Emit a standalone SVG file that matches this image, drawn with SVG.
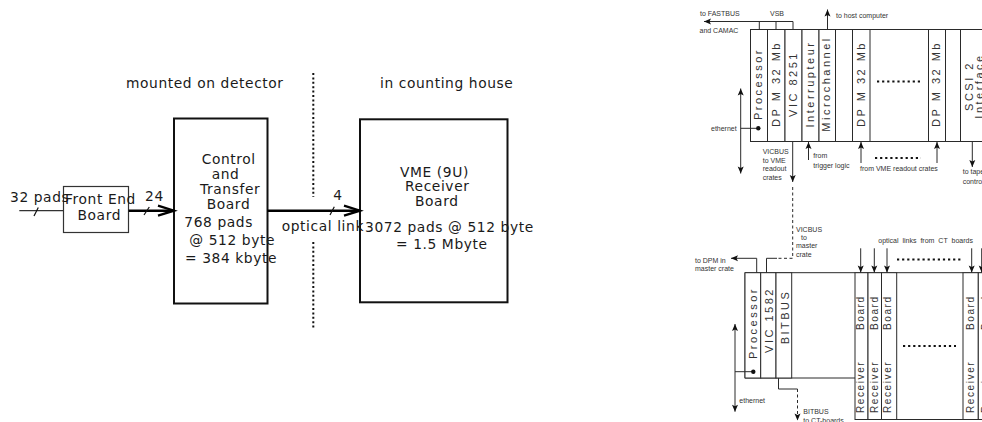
<svg xmlns="http://www.w3.org/2000/svg" width="982" height="422" viewBox="0 0 982 422">
<style>
 .lt{font-family:"DejaVu Sans",Verdana,sans-serif;font-size:13.8px;letter-spacing:0.6px;fill:#1a1a1a}
 .box{fill:none;stroke:#111;stroke-width:2}
 .thin{fill:none;stroke:#333;stroke-width:1.2}
 .bus{fill:none;stroke:#000;stroke-width:2.5}
 .tick{fill:none;stroke:#111;stroke-width:1.2}
 .dotv{fill:none;stroke:#111;stroke-width:2;stroke-dasharray:2 2.4}
 .cr{fill:#fff;stroke:#2a2a2a;stroke-width:1}
 .col{font-family:"Liberation Sans",Arial,sans-serif;font-size:11px;letter-spacing:2.5px;fill:#333;text-anchor:middle}
 .rb{font-family:"Liberation Sans",Arial,sans-serif;font-size:10px;letter-spacing:1.6px;fill:#333}
 .sm{font-family:"Liberation Sans",Arial,sans-serif;font-size:7px;fill:#333}
 .ln{fill:none;stroke:#2a2a2a;stroke-width:1}
 .dash{fill:none;stroke:#2a2a2a;stroke-width:1;stroke-dasharray:3 2.5}
 .dots{fill:none;stroke:#111;stroke-width:2.2;stroke-dasharray:2.2 2.9}
</style>
<defs>
 <marker id="open" markerUnits="userSpaceOnUse" markerWidth="22" markerHeight="14" refX="16" refY="5.5" orient="auto" overflow="visible">
  <path d="M0,0.5 L16,5.5 L0,10.5" fill="none" stroke="#000" stroke-width="2.3"/>
 </marker>
 <marker id="ah" markerUnits="userSpaceOnUse" markerWidth="8" markerHeight="6" refX="7" refY="3" orient="auto-start-reverse" overflow="visible">
  <path d="M0,0 L7,3 L0,6 L1.5,3 z" fill="#111"/>
 </marker>
</defs>

<!-- ===== Left diagram ===== -->
<g id="label-mounted"><text class="lt" x="126" y="88.3">mounted on detector</text></g>
<g id="label-counting"><text class="lt" x="380" y="88.3">in counting house</text></g>
<g id="divider">
 <line class="dotv" x1="313.3" y1="73" x2="313.3" y2="197"/>
 <line class="dotv" x1="313.3" y1="242" x2="313.3" y2="329"/>
</g>

<g id="node-frontend">
 <rect class="thin" x="63.5" y="186.5" width="65" height="46"/>
 <text class="lt" x="65" y="204">Front End</text>
 <text class="lt" x="77.5" y="220">Board</text>
</g>

<g id="node-control">
 <rect class="box" x="174" y="118.5" width="93.5" height="185"/>
 <text class="lt" x="201.7" y="164">Control</text>
 <text class="lt" x="211.7" y="179">and</text>
 <text class="lt" x="200" y="194">Transfer</text>
 <text class="lt" x="206.7" y="209">Board</text>
 <text class="lt" x="184.3" y="227.3">768 pads</text>
 <text class="lt" x="189.3" y="245.3">@ 512 byte</text>
 <text class="lt" x="185" y="263.3">= 384 kbyte</text>
</g>

<g id="node-vme">
 <rect class="box" x="360" y="119.3" width="147.5" height="183"/>
 <text class="lt" x="400" y="177.3">VME (9U)</text>
 <text class="lt" x="405" y="191">Receiver</text>
 <text class="lt" x="415" y="205.7">Board</text>
 <text class="lt" x="365" y="231.7">3072 pads @ 512 byte</text>
 <text class="lt" x="396" y="249.3">= 1.5 Mbyte</text>
</g>

<g id="connectors-left">
 <line class="thin" x1="19.3" y1="210.7" x2="63.5" y2="210.7"/>
 <line class="tick" x1="34" y1="216" x2="38.3" y2="207.5"/>
 <text class="lt" x="10" y="201.7">32 pads</text>
 <line class="bus" x1="128.7" y1="210.7" x2="174" y2="210.7" marker-end="url(#open)"/>
 <line class="tick" x1="144" y1="215" x2="149.3" y2="207"/>
 <text class="lt" x="145" y="200.7">24</text>
 <line class="bus" x1="267.3" y1="210.7" x2="360" y2="210.7" marker-end="url(#open)"/>
 <line class="tick" x1="330" y1="215" x2="334.3" y2="206.7"/>
 <text class="lt" x="333.3" y="200">4</text>
 <text class="lt" x="281.7" y="231.3">optical link</text>
</g>

<!-- ===== Right diagram: master crate (top) ===== -->
<g id="crate-top">
 <rect class="cr" x="750.5" y="29.5" width="250" height="112"/>
 <g id="mod-processor-top"><rect class="cr" x="750.5" y="29.5" width="17" height="112"/>
  <text class="col" transform="translate(762,84) rotate(-90)">Processor</text></g>
 <g id="mod-dpm-a"><rect class="cr" x="767.5" y="29.5" width="17.5" height="112"/>
  <text class="col" transform="translate(779.5,84) rotate(-90)">DP M 32 Mb</text></g>
 <g id="mod-vic8251"><rect class="cr" x="785" y="29.5" width="17" height="112"/>
  <text class="col" transform="translate(796.5,84) rotate(-90)">VIC 8251</text></g>
 <g id="mod-interrupteur"><rect class="cr" x="802" y="29.5" width="17" height="112"/>
  <text class="col" transform="translate(813.5,84) rotate(-90)">Interrupteur</text></g>
 <g id="mod-microchannel"><rect class="cr" x="819" y="29.5" width="16.5" height="112"/>
  <text class="col" transform="translate(830,84) rotate(-90)">Microchannel</text></g>
 <g id="mod-blank-a"><rect class="cr" x="835.5" y="29.5" width="17" height="112"/></g>
 <g id="mod-dpm-b"><rect class="cr" x="852.5" y="29.5" width="17.5" height="112"/>
  <text class="col" transform="translate(864.5,84) rotate(-90)">DP M 32 Mb</text></g>
 <g id="mod-dpm-c"><rect class="cr" x="928.5" y="29.5" width="17" height="112"/>
  <text class="col" transform="translate(940,84) rotate(-90)">DP M 32 Mb</text></g>
 <g id="mod-blank-b"><rect class="cr" x="945.5" y="29.5" width="15" height="112"/></g>
 <g id="mod-scsi"><rect class="cr" x="960.5" y="29.5" width="40" height="112"/>
  <text class="col" transform="translate(973,86) rotate(-90)">SCSI 2</text>
  <text class="col" transform="translate(983,86) rotate(-90)">Interface</text></g>
 <line class="dots" x1="877" y1="81.5" x2="921" y2="81.5"/>
</g>

<!-- ===== Right diagram: readout crate (bottom) ===== -->
<g id="crate-bottom">
 <path class="ln" d="M745,272.7 H1000 M745,272.7 V378 H855 M855,419.5 H1000"/>
 <g id="mod-processor-bot"><rect class="cr" x="745" y="272.7" width="15.7" height="105.3"/>
  <text class="col" transform="translate(757,323) rotate(-90)">Processor</text></g>
 <g id="mod-vic1582"><rect class="cr" x="760.7" y="272.7" width="15.3" height="105.3"/>
  <text class="col" transform="translate(773,320) rotate(-90)">VIC 1582</text></g>
 <g id="mod-bitbus"><rect class="cr" x="776" y="272.7" width="15.7" height="105.3"/>
  <text class="col" transform="translate(789,317) rotate(-90)">BITBUS</text></g>
 <g id="mod-recv-1"><rect class="cr" x="855" y="272.7" width="13" height="146.8"/>
  <text class="rb" transform="translate(864,413) rotate(-90)">Receiver<tspan x="83">Board</tspan></text></g>
 <g id="mod-recv-2"><rect class="cr" x="868" y="272.7" width="13.5" height="146.8"/>
  <text class="rb" transform="translate(877.5,413) rotate(-90)">Receiver<tspan x="83">Board</tspan></text></g>
 <g id="mod-recv-3"><rect class="cr" x="881.5" y="272.7" width="15.2" height="146.8"/>
  <text class="rb" transform="translate(891,413) rotate(-90)">Receiver<tspan x="83">Board</tspan></text></g>
 <g id="mod-recv-4"><rect class="cr" x="963" y="272.7" width="15.3" height="146.8"/>
  <text class="rb" transform="translate(974,413) rotate(-90)">Receiver<tspan x="83">Board</tspan></text></g>
 <g id="mod-recv-5"><rect class="cr" x="978.3" y="272.7" width="15" height="146.8"/>
  <text class="rb" transform="translate(988.5,413) rotate(-90)">Receiver<tspan x="83">Board</tspan></text></g>
 <line class="dots" x1="903" y1="346" x2="956" y2="346"/>
</g>

<g id="connectors-right">
 <path class="ln" d="M793,29.5 V21.5 H704" marker-end="url(#ah)"/>
 <path class="ln" d="M759.3,29.5 V21.5 M776,29.5 V21.5"/>
 <path class="ln" d="M827.5,29.5 V9.5" marker-end="url(#ah)"/>
 <path class="ln" d="M740.7,88.5 V173.5" marker-start="url(#ah)" marker-end="url(#ah)"/>
 <path class="ln" d="M740.7,128.3 H758.3"/>
 <circle cx="758.3" cy="128.3" r="2.2" fill="#111"/>
 <path class="ln" d="M792.7,141.5 V182" marker-end="url(#ah)"/>
 <path class="dash" d="M792.7,187 V258.3 H777"/>
 <path class="ln" d="M777,258.3 H766.5 V272.7"/>
 <path class="ln" d="M808.5,160 V142" marker-end="url(#ah)"/>
 <path class="ln" d="M861,163 V142" marker-end="url(#ah)"/>
 <path class="ln" d="M937,163 V142" marker-end="url(#ah)"/>
 <line class="dots" x1="875" y1="158" x2="921" y2="158"/>
 <path class="ln" d="M972.3,141.5 V167" marker-end="url(#ah)"/>
 <path class="ln" d="M756.7,272.7 V258.3 H731" marker-end="url(#ah)"/>
 <path class="ln" d="M735,324 V411.7" marker-start="url(#ah)" marker-end="url(#ah)"/>
 <path class="ln" d="M735,371.7 H753.3"/>
 <circle cx="753.3" cy="371.7" r="2.2" fill="#111"/>
 <path class="ln" d="M778.5,378 V389 H797.5"/>
 <path class="dash" d="M797.5,389 V420.5" marker-end="url(#ah)"/>
 <path class="ln" d="M860.7,248.3 V272.5" marker-end="url(#ah)"/>
 <path class="ln" d="M874.3,248.3 V272.5" marker-end="url(#ah)"/>
 <path class="ln" d="M887,248.3 V272.5" marker-end="url(#ah)"/>
 <path class="ln" d="M971.7,248.3 V272.5" marker-end="url(#ah)"/>
 <path class="ln" d="M981.7,248.3 V272.5" marker-end="url(#ah)"/>
 <line class="dots" x1="897" y1="259.5" x2="962" y2="259.5"/>
</g>

<g id="labels-right">
 <text class="sm" x="700" y="16">to FASTBUS</text>
 <text class="sm" x="699.5" y="32.5">and CAMAC</text>
 <text class="sm" x="770" y="16">VSB</text>
 <text class="sm" x="836" y="17.5">to host computer</text>
 <text class="sm" x="711" y="130.5">ethernet</text>
 <text class="sm" x="762.7" y="154">VICBUS</text>
 <text class="sm" x="762.7" y="162.5">to VME</text>
 <text class="sm" x="762.7" y="171">readout</text>
 <text class="sm" x="762.7" y="179.5">crates</text>
 <text class="sm" x="813.3" y="158">from</text>
 <text class="sm" x="813.3" y="167.5">trigger logic</text>
 <text class="sm" x="860" y="170.5">from VME readout crates</text>
 <text class="sm" x="962.7" y="174">to tape</text>
 <text class="sm" x="962.7" y="184">control</text>
 <text class="sm" x="796" y="231.5">VICBUS</text>
 <text class="sm" x="801" y="239.5">to</text>
 <text class="sm" x="796" y="247.5">master</text>
 <text class="sm" x="796" y="256.5">crate</text>
 <text class="sm" x="695" y="263">to DPM in</text>
 <text class="sm" x="695" y="271">master crate</text>
 <text class="sm" x="878.3" y="243.3" word-spacing="2">optical links from CT boards</text>
 <text class="sm" x="739.3" y="403.3">ethernet</text>
 <text class="sm" x="803.3" y="414">BITBUS</text>
 <text class="sm" x="803.3" y="422.5">to CT-boards</text>
</g>
</svg>
